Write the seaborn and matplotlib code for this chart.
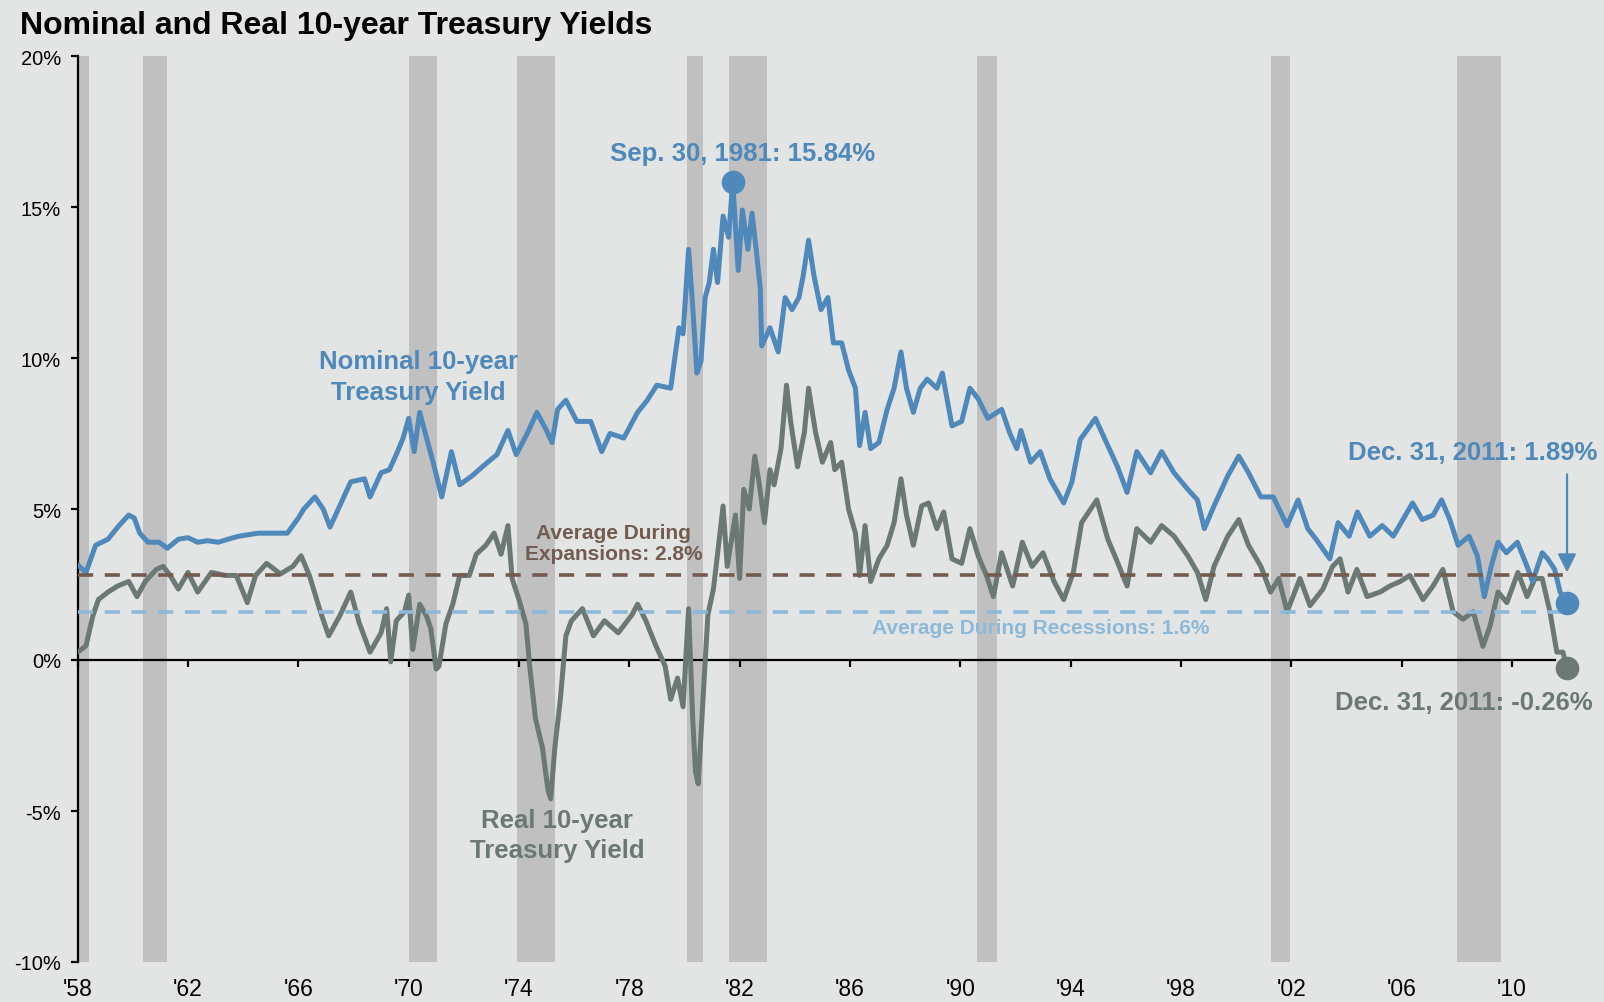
import matplotlib
matplotlib.use("Agg")
import matplotlib.pyplot as plt
import pandas as pd
import seaborn as sns

# ---- data (percent) -------------------------------------------------------
nominal_dates = [
    1958.00, 1958.30, 1958.65, 1959.10, 1959.45, 1959.85, 1960.05, 1960.25, 1960.55, 1960.95,
    1961.25, 1961.65, 1962.00, 1962.35, 1962.70, 1963.10, 1963.45, 1963.85, 1964.55, 1965.25,
    1965.60, 1966.00, 1966.20, 1966.60, 1966.90, 1967.15, 1967.50, 1967.90, 1968.40, 1968.60,
    1969.00, 1969.30, 1969.55, 1969.80, 1970.00, 1970.20, 1970.40, 1970.65, 1970.90, 1971.20,
    1971.55, 1971.85, 1972.30, 1972.80, 1973.20, 1973.60, 1973.90, 1974.30, 1974.65, 1975.00,
    1975.20, 1975.40, 1975.70, 1976.10, 1976.60, 1977.00, 1977.30, 1977.80, 1978.30, 1978.65,
    1979.00, 1979.50, 1979.80, 1979.95, 1980.15, 1980.30, 1980.45, 1980.60, 1980.75, 1980.90,
    1981.05, 1981.20, 1981.40, 1981.60, 1981.75, 1981.95, 1982.10, 1982.30, 1982.45, 1982.60,
    1982.75, 1982.80, 1983.10, 1983.40, 1983.65, 1983.90, 1984.15, 1984.30, 1984.50, 1984.70,
    1984.95, 1985.20, 1985.40, 1985.70, 1985.95, 1986.20, 1986.35, 1986.55, 1986.75, 1987.05,
    1987.35, 1987.60, 1987.85, 1988.05, 1988.30, 1988.55, 1988.80, 1989.15, 1989.35, 1989.70,
    1990.05, 1990.35, 1990.65, 1991.00, 1991.50, 1991.80, 1992.05, 1992.20, 1992.55, 1992.90,
    1993.25, 1993.75, 1994.05, 1994.35, 1994.90, 1995.35, 1995.70, 1996.05, 1996.40, 1996.90,
    1997.30, 1997.75, 1998.25, 1998.60, 1998.85, 1999.20, 1999.70, 2000.10, 2000.45, 2000.90,
    2001.35, 2001.85, 2002.25, 2002.60, 2002.90, 2003.40, 2003.70, 2004.10, 2004.40, 2004.85,
    2005.30, 2005.70, 2006.05, 2006.40, 2006.75, 2007.15, 2007.45, 2007.75, 2008.05, 2008.45,
    2008.75, 2009.00, 2009.25, 2009.50, 2009.80, 2010.20, 2010.55, 2010.75, 2011.10, 2011.30,
    2011.55, 2011.75, 2012.00,
]
nominal_yield = [
    3.15, 2.90, 3.80, 4.00, 4.40, 4.80, 4.70, 4.20, 3.90, 3.90,
    3.70, 4.00, 4.05, 3.90, 3.95, 3.90, 4.00, 4.10, 4.20, 4.20,
    4.20, 4.70, 5.00, 5.40, 5.00, 4.40, 5.10, 5.90, 6.00, 5.40,
    6.20, 6.30, 6.80, 7.35, 8.00, 6.90, 8.20, 7.35, 6.50, 5.40,
    6.90, 5.80, 6.10, 6.50, 6.80, 7.60, 6.80, 7.50, 8.20, 7.60,
    7.20, 8.30, 8.60, 7.90, 7.90, 6.90, 7.50, 7.35, 8.20, 8.60,
    9.10, 9.00, 11.00, 10.80, 13.60, 11.70, 9.50, 9.90, 12.00, 12.50,
    13.60, 12.50, 14.70, 14.00, 15.84, 12.90, 14.90, 13.60, 14.80, 13.60,
    12.30, 10.40, 11.00, 10.20, 12.00, 11.60, 12.00, 12.70, 13.90, 12.70,
    11.60, 12.00, 10.50, 10.50, 9.60, 9.00, 7.10, 8.20, 7.00, 7.20,
    8.30, 9.00, 10.20, 9.00, 8.20, 9.00, 9.30, 9.00, 9.50, 7.75,
    7.90, 9.00, 8.65, 8.00, 8.30, 7.50, 7.00, 7.60, 6.55, 6.90,
    6.00, 5.20, 5.90, 7.30, 8.00, 7.10, 6.40, 5.55, 6.90, 6.20,
    6.90, 6.20, 5.65, 5.30, 4.35, 5.10, 6.10, 6.75, 6.20, 5.40,
    5.40, 4.45, 5.30, 4.35, 4.00, 3.35, 4.55, 4.10, 4.90, 4.10,
    4.45, 4.10, 4.65, 5.20, 4.65, 4.80, 5.30, 4.65, 3.80, 4.10,
    3.45, 2.10, 3.10, 3.90, 3.55, 3.90, 3.10, 2.60, 3.55, 3.35,
    3.00, 2.25, 1.89,
]

real_dates = [
    1958.00, 1958.30, 1958.55, 1958.75, 1959.10, 1959.45, 1959.85, 1960.15, 1960.45, 1960.85,
    1961.10, 1961.35, 1961.65, 1962.00, 1962.35, 1962.85, 1963.35, 1963.75, 1964.15, 1964.45,
    1964.85, 1965.35, 1965.80, 1966.10, 1966.40, 1966.80, 1967.10, 1967.50, 1967.90, 1968.20,
    1968.60, 1969.00, 1969.20, 1969.35, 1969.55, 1969.85, 1970.00, 1970.15, 1970.40, 1970.65,
    1970.80, 1971.00, 1971.10, 1971.35, 1971.60, 1971.85, 1972.20, 1972.45, 1972.80, 1973.10,
    1973.35, 1973.60, 1973.75, 1974.00, 1974.25, 1974.40, 1974.60, 1974.85, 1975.05, 1975.15,
    1975.30, 1975.50, 1975.70, 1975.90, 1976.30, 1976.70, 1977.10, 1977.60, 1978.10, 1978.30,
    1978.60, 1978.95, 1979.30, 1979.50, 1979.75, 1979.95, 1980.15, 1980.30, 1980.40, 1980.50,
    1980.70, 1980.85, 1981.05, 1981.25, 1981.40, 1981.55, 1981.85, 1982.00, 1982.15, 1982.35,
    1982.55, 1982.70, 1982.90, 1983.10, 1983.25, 1983.50, 1983.70, 1983.85, 1984.10, 1984.35,
    1984.50, 1984.75, 1985.00, 1985.30, 1985.45, 1985.70, 1985.95, 1986.20, 1986.35, 1986.55,
    1986.75, 1987.05, 1987.35, 1987.60, 1987.85, 1988.05, 1988.30, 1988.60, 1988.85, 1989.15,
    1989.40, 1989.70, 1990.05, 1990.35, 1990.65, 1990.95, 1991.20, 1991.50, 1991.90, 1992.25,
    1992.60, 1993.00, 1993.40, 1993.75, 1994.10, 1994.40, 1994.95, 1995.35, 1995.65, 1996.05,
    1996.40, 1996.90, 1997.30, 1997.75, 1998.25, 1998.60, 1998.90, 1999.20, 1999.70, 2000.10,
    2000.45, 2000.90, 2001.25, 2001.55, 2001.85, 2002.32, 2002.68, 2003.15, 2003.50, 2003.77,
    2004.06, 2004.38, 2004.75, 2005.22, 2005.58, 2005.95, 2006.30, 2006.78, 2007.14, 2007.50,
    2007.87, 2008.23, 2008.60, 2008.95, 2009.20, 2009.50, 2009.82, 2010.22, 2010.55, 2010.84,
    2011.10, 2011.38, 2011.63, 2011.85, 2012.00,
]
real_yield = [
    0.26, 0.47, 1.46, 2.00, 2.25, 2.45, 2.60, 2.10, 2.60, 3.00,
    3.10, 2.80, 2.35, 2.90, 2.25, 2.90, 2.80, 2.80, 1.90, 2.80,
    3.20, 2.85, 3.10, 3.45, 2.80, 1.60, 0.80, 1.46, 2.25, 1.25,
    0.26, 0.90, 1.70, -0.06, 1.30, 1.60, 2.15, 0.35, 1.85, 1.45,
    1.05, -0.30, -0.20, 1.20, 1.85, 2.80, 2.80, 3.50, 3.80, 4.20,
    3.50, 4.45, 2.70, 2.00, 1.20, -0.30, -1.95, -2.90, -4.30, -4.60,
    -2.90, -1.30, 0.80, 1.30, 1.70, 0.80, 1.30, 0.90, 1.50, 1.85,
    1.30, 0.50, -0.20, -1.30, -0.60, -1.55, 1.70, -1.95, -3.70, -4.10,
    -0.85, 1.50, 2.35, 3.90, 5.10, 3.10, 4.80, 2.70, 5.65, 5.00,
    6.75, 5.90, 4.55, 6.30, 5.80, 7.00, 9.10, 7.90, 6.40, 7.55,
    9.00, 7.55, 6.55, 7.20, 6.30, 6.55, 5.00, 4.20, 2.80, 4.45,
    2.60, 3.35, 3.80, 4.55, 6.00, 4.80, 3.80, 5.10, 5.20, 4.35,
    4.90, 3.35, 3.20, 4.35, 3.45, 2.80, 2.10, 3.55, 2.45, 3.90,
    3.10, 3.55, 2.60, 2.00, 2.90, 4.55, 5.30, 4.00, 3.35, 2.45,
    4.35, 3.90, 4.45, 4.10, 3.45, 2.90, 2.00, 3.10, 4.10, 4.65,
    3.80, 3.10, 2.25, 2.70, 1.60, 2.70, 1.80, 2.35, 3.10, 3.35,
    2.25, 3.00, 2.10, 2.25, 2.45, 2.60, 2.80, 2.00, 2.45, 3.00,
    1.60, 1.35, 1.60, 0.45, 1.10, 2.25, 1.90, 2.90, 2.10, 2.70,
    2.70, 1.60, 0.26, 0.26, -0.26,
]

recession_start = [1958.00, 1960.37, 1970.00, 1973.93, 1980.08, 1981.63, 1990.62, 2001.27, 2008.00]
recession_end = [1958.41, 1961.24, 1971.02, 1975.29, 1980.68, 1982.98, 1991.32, 2001.97, 2009.60]

avg_expansion = 2.8
avg_recession = 1.6

peak_date, peak_value = 1981.75, 15.84
last_date = 2012.00
last_nominal, last_real = 1.89, -0.26

year_ticks = list(range(1958, 2011, 4))
year_labels = ["'58", "'62", "'66", "'70", "'74", "'78", "'82", "'86",
               "'90", "'94", "'98", "'02", "'06", "'10"]
pct_ticks = [-10, -5, 0, 5, 10, 15, 20]
pct_labels = ["-10%", "-5%", "0%", "5%", "10%", "15%", "20%"]

# ---- style ---------------------------------------------------------------
BG = "#E3E5E4"
BAND = "#C0C0C0"
BLUE = "#4F88BB"
GRAY = "#6B7874"
BROWN = "#735B4F"
LIGHTBLUE = "#8CB9D9"

sns.set_theme(style="white")
plt.rcParams["font.family"] = ["Liberation Sans", "DejaVu Sans"]

W, H = 1604, 1003
fig = plt.figure(figsize=(W / 100, H / 100), dpi=100, facecolor=BG)

x0, x1 = 1958.0, 2012.3
left_px, right_px = 77.7, 77.7 + (x1 - x0) * 27.58
top_px, bottom_px = 57, 963
ax = fig.add_axes([left_px / W, 1 - bottom_px / H,
                   (right_px - left_px) / W, (bottom_px - top_px) / H])
ax.set_facecolor(BG)
ax.set_xlim(x0, x1)
ax.set_ylim(-10, 20)

# recession shading
for s, e in zip(recession_start, recession_end):
    ax.axvspan(s, e, color=BAND, lw=0, zorder=0)

nominal_df = pd.DataFrame({"date": nominal_dates, "yield": nominal_yield})
real_df = pd.DataFrame({"date": real_dates, "yield": real_yield})

sns.lineplot(data=real_df, x="date", y="yield", ax=ax, color=GRAY, lw=3.6,
             estimator=None, sort=False, zorder=3)
sns.lineplot(data=nominal_df, x="date", y="yield", ax=ax, color=BLUE, lw=3.6,
             estimator=None, sort=False, zorder=3)

# averages
ax.plot([x0, last_date], [avg_expansion] * 2, color=BROWN, lw=2.6,
        dashes=(4.2, 3.2), zorder=4)
ax.plot([x0, last_date], [avg_recession] * 2, color=LIGHTBLUE, lw=2.6,
        dashes=(4.2, 3.2), zorder=4)

# highlighted points
ax.plot([peak_date], [peak_value], "o", ms=16, color=BLUE, zorder=5)
ax.plot([last_date], [last_nominal], "o", ms=16, color=BLUE, zorder=5, clip_on=False)
ax.plot([last_date], [last_real], "o", ms=16, color=GRAY, zorder=5, clip_on=False)

bold = dict(fontweight="bold")
ax.text(1970.34, 9.39, "Nominal 10-year\nTreasury Yield", color=BLUE, fontsize=18.5,
        ha="center", va="center", linespacing=1.35, **bold)
ax.text(1975.39, -5.8, "Real 10-year\nTreasury Yield", color=GRAY, fontsize=18.5,
        ha="center", va="center", linespacing=1.35, **bold)
ax.text(1982.09, 16.8, "Sep. 30, 1981: 15.84%", color=BLUE, fontsize=18.5,
        ha="center", va="center", **bold)
ax.text(2013.09, 6.9, "Dec. 31, 2011: 1.89%", color=BLUE, fontsize=18.5,
        ha="right", va="center", **bold)
ax.text(2012.94, -1.39, "Dec. 31, 2011: -0.26%", color=GRAY, fontsize=18.5,
        ha="right", va="center", **bold)
ax.text(1977.42, 3.87, "Average During\nExpansions: 2.8%", color=BROWN, fontsize=15,
        ha="center", va="center", linespacing=1.15, **bold)
ax.text(1992.93, 1.09, "Average During Recessions: 1.6%", color=LIGHTBLUE, fontsize=15,
        ha="center", va="center", **bold)

ax.annotate("", xy=(last_date, 2.9), xytext=(last_date, 6.15),
            arrowprops=dict(arrowstyle="-|>", color=BLUE, lw=1.6,
                            mutation_scale=28, shrinkA=0, shrinkB=0),
            annotation_clip=False)

# axes: left spine, and the horizontal axis sits at zero
for side in ("top", "right"):
    ax.spines[side].set_visible(False)
ax.spines["left"].set_color("black")
ax.spines["left"].set_linewidth(1.6)
ax.spines["bottom"].set_position(("data", 0))
ax.spines["bottom"].set_color("black")
ax.spines["bottom"].set_linewidth(1.6)
ax.spines["bottom"].set_bounds(x0, 2011.56)

ax.set_yticks(pct_ticks)
ax.set_yticklabels(pct_labels)
ax.set_xticks(year_ticks)
ax.tick_params(axis="y", direction="out", length=5, width=1.6, color="black",
               labelsize=14.5, pad=7, labelcolor="black", left=True)
ax.tick_params(axis="x", direction="out", length=5, width=1.6, color="black",
               labelbottom=False, bottom=True)
ax.set_xlabel("")
ax.set_ylabel("")
ax.grid(False)

for t, lab in zip(year_ticks, year_labels):
    ax.text(t, -0.029, lab, transform=ax.get_xaxis_transform(), ha="center",
            va="center", fontsize=16.5, color="black")

fig.text(20 / W, 1 - 26 / H, "Nominal and Real 10-year Treasury Yields",
         ha="left", va="center", fontsize=23, fontweight="bold", color="black")

fig.savefig("out.png", dpi=100, facecolor=BG)
